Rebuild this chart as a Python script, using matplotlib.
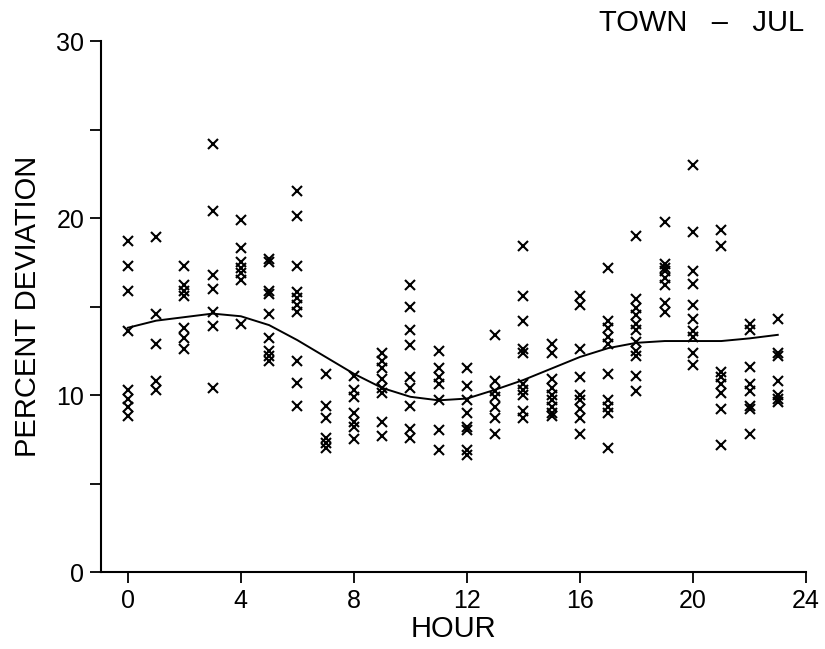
import matplotlib
matplotlib.use("Agg")
import numpy as np
from matplotlib import pyplot as plt

# percent deviation readings, one list per hour
h0 = [18.7, 17.3, 15.9, 13.6, 10.3, 9.8, 9.3, 8.8]
h1 = [18.9, 14.6, 12.9, 10.8, 10.3]
h2 = [17.3, 16.2, 15.9, 15.6, 13.8, 13.2, 12.6]
h3 = [24.2, 20.4, 16.8, 16.0, 14.7, 13.9, 10.4]
h4 = [19.9, 18.3, 17.5, 17.2, 16.9, 16.5, 14.0]
h5 = [17.7, 17.5, 15.9, 15.7, 14.6, 13.2, 12.5, 12.2, 11.9]
h6 = [21.5, 20.1, 17.3, 15.8, 15.5, 15.1, 14.7, 11.9, 10.7, 9.4]
h7 = [11.2, 9.4, 8.7, 7.6, 7.3, 7.0]
h8 = [11.1, 10.3, 9.9, 9.0, 8.5, 8.2, 7.5]
h9 = [12.4, 11.9, 11.5, 10.9, 10.4, 10.1, 8.5, 7.7]
h10 = [16.2, 15.0, 13.7, 12.8, 11.0, 10.4, 9.4, 8.1, 7.6]
h11 = [12.5, 11.5, 11.0, 10.6, 9.7, 8.0, 6.9]
h12 = [11.5, 10.5, 9.7, 9.0, 8.2, 8.0, 6.9, 6.6]
h13 = [13.4, 10.8, 10.2, 9.9, 9.3, 8.7, 7.8]
h14 = [18.4, 15.6, 14.2, 12.6, 12.4, 10.6, 10.3, 10.0, 9.1, 8.7]
h15 = [12.9, 12.4, 10.9, 10.4, 10.0, 9.7, 9.3, 9.0, 8.8]
h16 = [15.6, 15.1, 12.6, 11.0, 10.0, 9.7, 9.2, 8.7, 7.8]
h17 = [17.2, 14.2, 13.8, 13.3, 12.9, 11.2, 9.7, 9.3, 9.0, 7.0]
h18 = [19.0, 15.4, 14.9, 14.5, 14.0, 13.7, 13.0, 12.5, 12.2, 11.1, 10.2]
h19 = [19.8, 17.4, 17.2, 17.0, 16.6, 16.2, 15.2, 14.7]
h20 = [23.0, 19.2, 17.0, 16.3, 15.1, 14.3, 13.6, 13.3, 12.4, 11.7]
h21 = [19.3, 18.4, 11.3, 11.0, 10.6, 10.1, 9.2, 7.2]
h22 = [14.0, 13.7, 11.6, 10.6, 10.2, 9.4, 9.2, 7.8]
h23 = [14.3, 12.4, 12.2, 10.8, 10.0, 9.8, 9.6]
obs = [h0, h1, h2, h3, h4, h5, h6, h7, h8, h9, h10, h11,
       h12, h13, h14, h15, h16, h17, h18, h19, h20, h21, h22, h23]

# fitted curve
hours = list(range(24))
fit = [13.8, 14.2, 14.4, 14.6, 14.45, 13.95, 13.1, 12.15, 11.2, 10.4, 9.9, 9.7,
       9.8, 10.3, 10.85, 11.5, 12.15, 12.65, 12.95, 13.05, 13.05, 13.05, 13.2, 13.4]

xticks = [0, 4, 8, 12, 16, 20, 24]
yticks = [0, 10, 20, 30]

plt.rcParams['font.family'] = ['Liberation Sans', 'DejaVu Sans']

fig = plt.figure(figsize=(8.25, 6.49), dpi=100)
ax = fig.add_axes([0.1224, 0.1186, 0.8546, 0.8182])

for h, vals in enumerate(obs):
    ax.plot([h] * len(vals), vals, 'x', color='black', markersize=7, mew=1.5)
ax.plot(hours, fit, color='black', lw=1.4)

ax.set_xlim(-0.95, 24)
ax.set_ylim(0, 30)
ax.set_xticks(xticks)
ax.set_yticks(yticks)
ax.set_yticks([5, 15, 25], minor=True)
ax.spines['top'].set_visible(False)
ax.spines['right'].set_visible(False)
ax.spines['left'].set_linewidth(1.5)
ax.spines['bottom'].set_linewidth(1.5)
ax.tick_params(axis='both', which='major', direction='out', length=8, width=1.3,
               labelsize=18, pad=4)
ax.tick_params(axis='y', which='minor', direction='out', length=8, width=1.3)

ax.set_xlabel('HOUR', fontsize=21, labelpad=2)
ax.set_ylabel('PERCENT DEVIATION', fontsize=21, labelpad=10)
fig.text(0.975, 0.965, 'TOWN   \u2013   JUL', fontsize=21, ha='right', va='center')

fig.savefig('out.png', dpi=100)
